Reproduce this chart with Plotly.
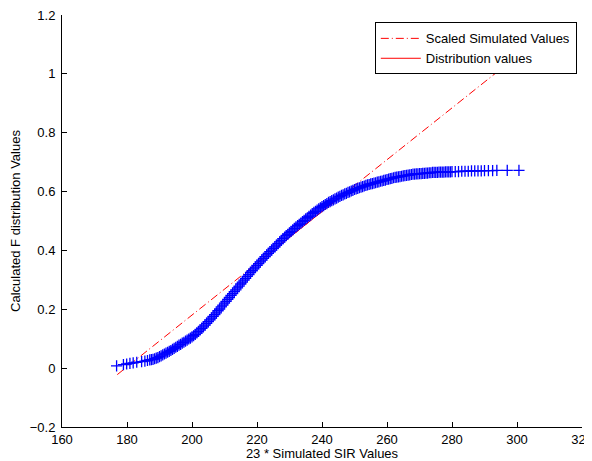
import plotly.graph_objects as go

# Blue '+' points: 23 * simulated SIR values vs calculated F distribution values
sim_x = [176.8, 178.9, 179.9, 180.9, 181.9, 183.0, 184.5, 185.5, 186.3, 187.0, 187.5,
         188, 188.5, 189, 189.5, 190, 190.5, 191, 191.5, 192, 192.5, 193, 193.5, 194, 194.5,
         195, 195.5, 196, 196.5, 197, 197.5, 198, 198.5, 199, 199.5, 200, 200.5, 201, 201.5,
         202, 202.5, 203, 203.5, 204, 204.5, 205, 205.5, 206, 206.5, 207, 207.5, 208, 208.5,
         209, 209.5, 210, 210.5, 211, 211.5, 212, 212.5, 213, 213.5, 214, 214.5, 215, 215.5,
         216, 216.5, 217, 217.5, 218, 218.5, 219, 219.5, 220, 220.5, 221, 221.5, 222, 222.5,
         223, 223.5, 224, 224.5, 225, 225.5, 226, 226.5, 227, 227.5, 228, 228.5, 229, 229.5,
         230, 230.5, 231, 231.5, 232, 232.5, 233, 233.5, 234, 234.5, 235, 235.5, 236, 236.5,
         237, 237.5, 238, 238.5, 239, 239.5, 240, 240.5, 241, 241.5, 242, 242.5, 243, 243.5,
         244, 244.5, 245, 245.5, 246, 246.5, 247, 247.5, 248, 248.5, 249, 249.5, 250, 250.5,
         251, 251.5, 252, 252.5, 253, 253.5, 254, 254.5, 255, 255.5, 256, 256.5, 257, 257.5,
         258, 258.5, 259, 259.5, 260, 260.5, 261, 261.5, 262, 262.5, 263, 263.5, 264, 264.5,
         265, 265.5, 266, 266.5, 267, 267.5, 268, 268.5, 269, 269.5, 270, 270.5, 271, 271.5,
         272, 272.5, 273, 273.5, 274, 274.5, 275, 275.5, 276, 276.5, 277, 277.5, 278, 278.5,
         279, 279.5, 280,
         281, 282, 283, 284, 285, 286, 287, 288, 289, 290, 291.2, 292.5, 293.8, 297.0, 300.6]
f_vals = [0.008, 0.012, 0.014, 0.016, 0.018, 0.020, 0.022, 0.024, 0.026, 0.028, 0.029,
          0.030, 0.032, 0.034, 0.036, 0.039, 0.042, 0.045, 0.048, 0.051, 0.054, 0.057, 0.060, 0.064, 0.067,
          0.071, 0.074, 0.078, 0.081, 0.085, 0.088, 0.092, 0.095, 0.099, 0.102, 0.106, 0.110, 0.115, 0.120,
          0.125, 0.130, 0.135, 0.140, 0.146, 0.152, 0.158, 0.164, 0.170, 0.176, 0.182, 0.188, 0.195, 0.201,
          0.208, 0.214, 0.221, 0.227, 0.234, 0.240, 0.247, 0.253, 0.260, 0.266, 0.273, 0.279, 0.286, 0.292,
          0.299, 0.305, 0.312, 0.318, 0.325, 0.331, 0.337, 0.343, 0.349, 0.355, 0.361, 0.367, 0.373, 0.379,
          0.385, 0.390, 0.396, 0.401, 0.407, 0.412, 0.418, 0.423, 0.429, 0.434, 0.440, 0.445, 0.450, 0.455,
          0.460, 0.465, 0.470, 0.475, 0.480, 0.484, 0.489, 0.493, 0.498, 0.502, 0.507, 0.511, 0.516, 0.520,
          0.525, 0.529, 0.533, 0.537, 0.541, 0.545, 0.549, 0.552, 0.556, 0.559, 0.563, 0.566, 0.569, 0.572,
          0.575, 0.578, 0.581, 0.584, 0.587, 0.589, 0.592, 0.594, 0.597, 0.599, 0.602, 0.604, 0.607, 0.609,
          0.611, 0.613, 0.615, 0.617, 0.619, 0.621, 0.623, 0.624, 0.626, 0.627, 0.629, 0.630, 0.632, 0.633,
          0.635, 0.636, 0.638, 0.639, 0.641, 0.642, 0.644, 0.645, 0.647, 0.648, 0.649, 0.650, 0.651, 0.652,
          0.653, 0.654, 0.655, 0.656, 0.657, 0.658, 0.659, 0.659, 0.660, 0.660, 0.661, 0.661, 0.662, 0.662,
          0.663, 0.663, 0.664, 0.664, 0.665, 0.665, 0.665, 0.665, 0.666, 0.666, 0.666, 0.666, 0.667, 0.667,
          0.667, 0.667, 0.668,
          0.668, 0.668, 0.669, 0.669, 0.669, 0.670, 0.670, 0.670, 0.670, 0.671, 0.671, 0.671, 0.672, 0.672, 0.672]

# Scaled simulated values (straight dash-dot reference line)
scaled_x = [177, 301]
scaled_y = [-0.022, 1.069]

# Distribution values (solid red line, mostly hidden beneath the blue points)
dist_x = [217, 245]
dist_y = [0.330, 0.576]

x_ticks = [160, 180, 200, 220, 240, 260, 280, 300, 320]
y_ticks = [-0.2, 0, 0.2, 0.4, 0.6, 0.8, 1, 1.2]
y_tick_text = ["\u22120.2", "0", "0.2", "0.4", "0.6", "0.8", "1", "1.2"]

FONT = "Liberation Sans, Arial, Helvetica, sans-serif"

fig = go.Figure()
fig.add_trace(go.Scatter(
    x=scaled_x, y=scaled_y, mode="lines", name="Scaled Simulated Values",
    line=dict(color="#ff0000", width=1, dash="8px,3px,1px,3px")))
fig.add_trace(go.Scatter(
    x=dist_x, y=dist_y, mode="lines", name="Distribution values",
    line=dict(color="#ff0000", width=1)))
fig.add_trace(go.Scatter(
    x=sim_x, y=f_vals, mode="markers", showlegend=False,
    marker=dict(symbol="cross-thin", size=8, color="#0000ff",
                line=dict(color="#0000ff", width=1.3))))

axis_common = dict(
    showline=True, linecolor="black", linewidth=1, mirror=False,
    ticks="inside", ticklen=5, tickcolor="black", tickwidth=1,
    showgrid=False, zeroline=False, ticklabeloverflow="allow",
    tickfont=dict(family=FONT, size=13, color="black"),
)

fig.update_layout(
    width=584, height=453,
    margin=dict(l=54, r=10, t=7, b=34, autoexpand=False),
    paper_bgcolor="white", plot_bgcolor="white",
    font=dict(family=FONT, size=13, color="black"),
    xaxis=dict(range=[160, 320], tickvals=x_ticks,
               title=dict(text="23 * Simulated SIR Values", standoff=3,
                          font=dict(family=FONT, size=13, color="black")),
               **axis_common),
    yaxis=dict(range=[-0.2, 1.2], tickvals=y_ticks, ticktext=y_tick_text,
               ticklabelstandoff=3,
               title=dict(text="Calculated F distribution Values", standoff=6,
                          font=dict(family=FONT, size=13, color="black")),
               **axis_common),
    legend=dict(x=0.99, xanchor="right", y=0.982, yanchor="top",
                bgcolor="white", bordercolor="black", borderwidth=1,
                font=dict(family=FONT, size=13, color="black"),
                itemwidth=40, tracegroupgap=0),
    showlegend=True,
)

fig.write_html("out.html")
